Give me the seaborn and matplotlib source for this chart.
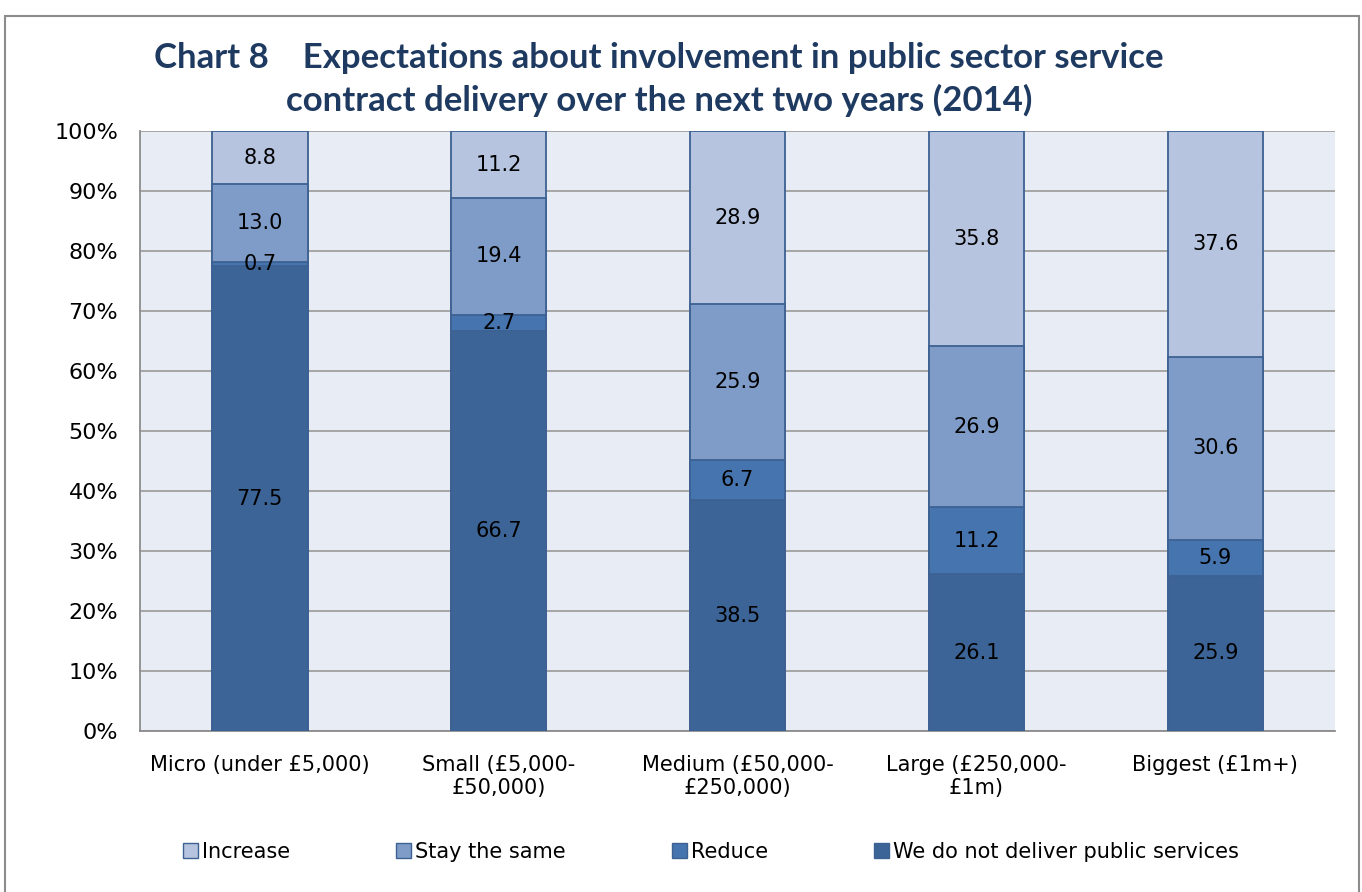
import matplotlib
matplotlib.use("Agg")
import matplotlib.pyplot as plt
from matplotlib.patches import Patch, Rectangle
from matplotlib.ticker import FixedLocator, PercentFormatter
import numpy as np
import pandas as pd
import seaborn as sns

# Turnover bands
categories = [
    "Micro (under £5,000)",
    "Small (£5,000-\n£50,000)",
    "Medium (£50,000-\n£250,000)",
    "Large (£250,000-\n£1m)",
    "Biggest (£1m+)",
]

# Share of respondents (%) per expectation, bottom to top of each stack
not_deliver = [77.5, 66.7, 38.5, 26.1, 25.9]
reduce = [0.7, 2.7, 6.7, 11.2, 5.9]
stay_same = [13.0, 19.4, 25.9, 26.9, 30.6]
increase = [8.8, 11.2, 28.9, 35.8, 37.6]

series_names = ["We do not deliver public services", "Reduce", "Stay the same", "Increase"]
series_values = [not_deliver, reduce, stay_same, increase]
series_colors = ["#3C6496", "#4674AE", "#7F9CC9", "#B7C4DF"]
edge_color = "#3D6192"

sns.set_theme(style="white")
plt.rcParams["font.family"] = ["DejaVu Sans"]
plt.rcParams["text.color"] = "black"

fig = plt.figure(figsize=(13.62, 8.92), dpi=100)
ax = fig.add_axes([0.103, 0.1805, 0.877, 0.6725])
ax.set_facecolor("#E8ECF4")

# Outer chart frame
fig.patches.append(Rectangle((0.004, -0.01), 0.994, 0.992, transform=fig.transFigure,
                             fill=False, edgecolor="#8C8C8C", linewidth=1.5))

# Stack layers: draw cumulative totals from the top layer down
df = pd.DataFrame({"category": categories})
bottoms = np.zeros(len(categories))
tops = []
for vals in series_values:
    tops.append(bottoms + np.array(vals))
    bottoms = tops[-1]

for name, color, top in reversed(list(zip(series_names, series_colors, tops))):
    d = df.assign(value=top)
    sns.barplot(data=d, x="category", y="value", color=color, width=0.40,
                edgecolor=edge_color, linewidth=1.3, saturation=1, ax=ax, zorder=3)

# Segment labels
start = np.zeros(len(categories))
for vals in series_values:
    for i, v in enumerate(vals):
        ax.text(i, start[i] + v / 2, f"{v:.1f}", ha="center", va="center",
                fontsize=15, color="black", zorder=5)
    start = start + np.array(vals)

ax.set_xlim(-0.5, len(categories) - 0.5)
ax.set_ylim(0, 100)
ax.yaxis.set_major_locator(FixedLocator(np.arange(0, 101, 10)))
ax.yaxis.set_major_formatter(PercentFormatter(decimals=0))
ax.grid(axis="y", color="#A0A0A0", linewidth=1.3, zorder=0)
ax.set_axisbelow(True)

ax.set_xlabel("")
ax.set_ylabel("")
ax.tick_params(axis="x", which="major", length=0, pad=17, labelsize=15, colors="black")
ax.xaxis.set_minor_locator(FixedLocator(np.arange(-0.5, len(categories), 1.0)))
ax.tick_params(axis="x", which="minor", length=7, width=1.3, color="#8C8C8C", direction="out")
ax.tick_params(axis="y", length=7, width=1.3, color="#8C8C8C", direction="out",
               labelsize=16, labelcolor="black", pad=9)

for side in ["top", "right"]:
    ax.spines[side].set_visible(False)
for side in ["left", "bottom"]:
    ax.spines[side].set_color("#8C8C8C")
    ax.spines[side].set_linewidth(1.3)

# Title
fig.text(0.484, 0.935, "Chart 8    Expectations about involvement in public sector service",
         ha="center", va="center", fontsize=25, fontweight="bold", color="#1F3A60",
         family=["Lato", "DejaVu Sans"])
fig.text(0.484, 0.887, "contract delivery over the next two years (2014)",
         ha="center", va="center", fontsize=25, fontweight="bold", color="#1F3A60",
         family=["Lato", "DejaVu Sans"])

# Legend
handles = [Patch(facecolor=c, edgecolor=edge_color, linewidth=1.0, label=n)
           for n, c in zip(reversed(series_names), reversed(series_colors))]
leg = fig.legend(handles=handles, loc="center", bbox_to_anchor=(0.522, 0.045), ncol=4,
                 frameon=False, fontsize=15, handlelength=0.7, handleheight=0.7,
                 handletextpad=0.2, columnspacing=5.1)
for t in leg.get_texts():
    t.set_color("black")

fig.savefig("out.png", dpi=100)
